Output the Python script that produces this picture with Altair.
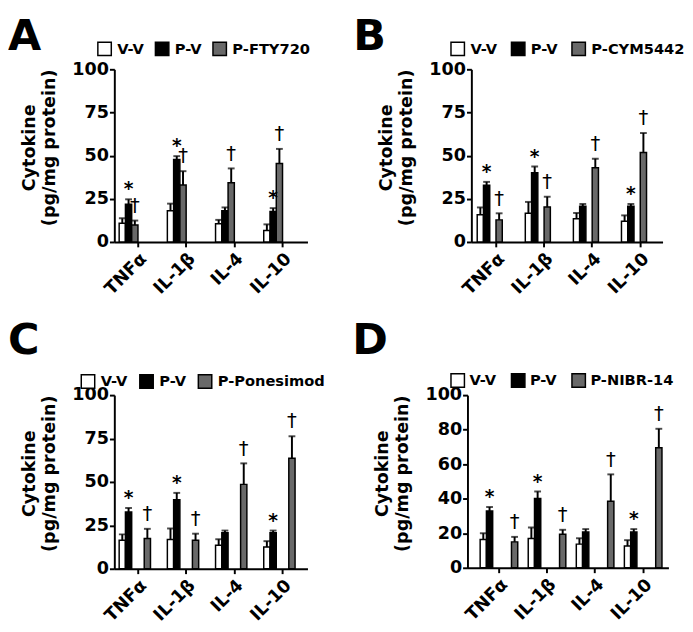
import altair as alt
import pandas as pd

categories = ["TNFα", "IL-1β", "IL-4", "IL-10"]
bar_colors = ["white", "black", "#696969"]
pv_marks = ["*", "*", "", "*"]
drug_marks = ["†", "†", "†", "†"]

# Panel A
A_groups = ["V-V", "P-V", "P-FTY720"]
A_vv = [10.9, 18.1, 10.5, 6.6]
A_vv_err = [2.8, 4.1, 2.3, 3.6]
A_pv = [21.8, 47.8, 18.1, 17.7]
A_pv_err = [2.9, 1.9, 1.9, 1.9]
A_drug = [9.8, 33.0, 34.3, 45.4]
A_drug_err = [2.6, 8.0, 8.3, 8.5]
A_ticks = [0, 25, 50, 75, 100]

# Panel B
B_groups = ["V-V", "P-V", "P-CYM5442"]
B_vv = [15.8, 16.6, 13.4, 12.0]
B_vv_err = [4.2, 6.6, 3.4, 3.4]
B_pv = [32.8, 40.1, 20.7, 20.7]
B_pv_err = [2.0, 3.6, 1.3, 1.3]
B_drug = [12.8, 20.3, 43.0, 51.8]
B_drug_err = [3.8, 5.9, 5.2, 11.3]
B_ticks = [0, 25, 50, 75, 100]

# Panel C
C_groups = ["V-V", "P-V", "P-Ponesimod"]
C_vv = [16.4, 16.8, 13.6, 12.5]
C_vv_err = [3.4, 6.4, 3.4, 3.4]
C_pv = [32.7, 39.8, 20.7, 20.7]
C_pv_err = [2.3, 3.9, 1.3, 1.3]
C_drug = [17.4, 16.4, 48.6, 63.6]
C_drug_err = [5.6, 3.8, 12.1, 12.7]
C_ticks = [0, 25, 50, 75, 100]

# Panel D
D_groups = ["V-V", "P-V", "P-NIBR-14"]
D_vv = [16.4, 17.0, 13.7, 12.6]
D_vv_err = [3.6, 6.3, 3.4, 3.4]
D_pv = [32.9, 40.2, 20.7, 20.7]
D_pv_err = [2.3, 4.0, 1.7, 1.7]
D_drug = [15.0, 19.4, 38.5, 69.5]
D_drug_err = [2.9, 2.6, 15.6, 11.0]
D_ticks = [0, 20, 40, 60, 80, 100]

FONT = "DejaVu Sans"

AXIS_STYLE = dict(
    domainColor="black", domainWidth=2, tickColor="black", tickWidth=2, tickSize=5,
    grid=False, labelFont=FONT, labelFontWeight="bold", labelFontSize=18,
    labelColor="black", labelOverlap=False,
)


def panel(letter, groups, vv, vv_err, pv, pv_err, drug, drug_err, ticks,
          width, height, pad_outer, align, leg_x, leg_y, col_pad, lab_off,
          letter_x, letter_y):
    rows = []
    series = [(vv, vv_err, [""] * 4), (pv, pv_err, pv_marks), (drug, drug_err, drug_marks)]
    for g, (vals, errs, marks) in zip(groups, series):
        for c, v, e, m in zip(categories, vals, errs, marks):
            rows.append({"cat": c, "group": g, "value": v, "top": v + e, "mark": m})
    df = pd.DataFrame(rows)

    x_axis = alt.Axis(title=None, labelAngle=-45, labelPadding=3, **AXIS_STYLE)
    y_axis = alt.Axis(values=ticks, title=["Cytokine", "(pg/mg protein)"],
                      titleY=80, labelPadding=1, titlePadding=14,
                      titleFont=FONT, titleFontWeight="bold", titleFontSize=18,
                      titleColor="black", titleLineHeight=20, **AXIS_STYLE)
    x_scale = alt.Scale(paddingInner=0.22, paddingOuter=pad_outer, align=align)
    y_scale = alt.Scale(domain=[0, 100], nice=False)

    x = alt.X("cat:N", sort=categories, scale=x_scale, axis=x_axis)
    xo = alt.XOffset("group:N", sort=groups,
                     scale=alt.Scale(paddingInner=0, paddingOuter=0))

    def yenc(field):
        return alt.Y(field, scale=y_scale, axis=y_axis)

    bars = alt.Chart(df).mark_bar(stroke="black", strokeWidth=1.5).encode(
        x=x, xOffset=xo, y=yenc("value:Q"),
        color=alt.Color("group:N", sort=groups,
                        scale=alt.Scale(domain=groups, range=bar_colors),
                        legend=alt.Legend(orient="none", legendX=leg_x, legendY=leg_y,
                                          direction="horizontal", title=None,
                                          symbolType="square", symbolSize=190,
                                          symbolStrokeColor="black",
                                          symbolStrokeWidth=1.5,
                                          labelFont=FONT, labelFontWeight="bold",
                                          labelFontSize=15, labelColor="black",
                                          labelOffset=lab_off, columnPadding=col_pad,
                                          padding=0)),
    )
    rules = alt.Chart(df).mark_rule(color="black", strokeWidth=2).encode(
        x=x, xOffset=xo, y=yenc("value:Q"), y2="top:Q")
    caps = alt.Chart(df).mark_tick(color="black", thickness=2, size=7,
                                   orient="horizontal").encode(
        x=x, xOffset=xo, y=yenc("top:Q"))
    stars = alt.Chart(df[df["mark"] == "*"]).mark_text(
        font=FONT, fontSize=19, fontWeight="bold", baseline="alphabetic", dy=-4,
        color="black").encode(x=x, xOffset=xo, y=yenc("top:Q"), text="mark:N")
    daggers = alt.Chart(df[df["mark"] == "†"]).mark_text(
        font=FONT, fontSize=20, baseline="alphabetic", dy=-9,
        color="black").encode(x=x, xOffset=xo, y=yenc("top:Q"), text="mark:N")
    let = alt.Chart(pd.DataFrame({"t": [letter]})).mark_text(
        font=FONT, fontSize=44, fontWeight="bold", align="left",
        baseline="alphabetic", color="black").encode(
        text="t:N", x=alt.value(letter_x), y=alt.value(letter_y))

    return alt.layer(bars, rules, caps, stars, daggers, let).properties(
        width=width, height=height)


pA = panel("A", A_groups, A_vv, A_vv_err, A_pv, A_pv_err, A_drug, A_drug_err, A_ticks,
           198, 177, 0.114, 0.44, -18, -29, 8, 5, -109, -20)
pB = panel("B", B_groups, B_vv, B_vv_err, B_pv, B_pv_err, B_drug, B_drug_err, B_ticks,
           196, 177, 0.098, 0.62, -22, -29, 11, 5, -121, -20)
pC = panel("C", C_groups, C_vv, C_vv_err, C_pv, C_pv_err, C_drug, C_drug_err, C_ticks,
           198, 178, 0.114, 0.44, -35, -22, 9, 5, -109, -42)
pD = panel("D", D_groups, D_vv, D_vv_err, D_pv, D_pv_err, D_drug, D_drug_err, D_ticks,
           206, 177, 0.2, 0.66, -18, -23, 12, 4, -118, -42)

res = dict(color="independent", x="independent", y="independent")
row1 = alt.hconcat(pA, pB, spacing=44).resolve_scale(**res)
row2 = alt.hconcat(pC, pD, spacing=28).resolve_scale(**res)

chart = alt.vconcat(row1, row2, spacing=22).resolve_scale(**res).properties(
    padding=0
).configure_view(stroke=None)

chart.save("out.html", embed_options={"renderer": "svg", "actions": False})
